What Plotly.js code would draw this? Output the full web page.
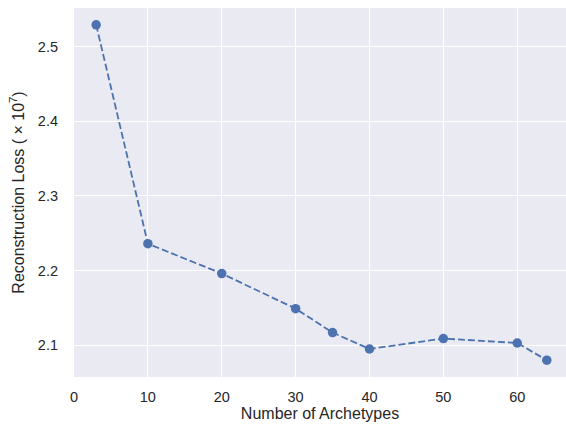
<!DOCTYPE html>
<html><head><meta charset="utf-8">
<script src="https://cdn.plot.ly/plotly-3.0.1.min.js"></script>
<style>body{margin:0;padding:0;background:#fff}#chart{width:566px;height:425px}</style>
</head><body><div id="chart"></div>
<script>
const archetypes = [3, 10, 20, 30, 35, 40, 50, 60, 64];
const loss = [2.529, 2.236, 2.196, 2.149, 2.117, 2.095, 2.109, 2.103, 2.080];
const xTicks = [0, 10, 20, 30, 40, 50, 60];
const yTicks = [2.1, 2.2, 2.3, 2.4, 2.5];

const trace = {
  x: archetypes, y: loss, type: 'scatter', mode: 'lines+markers',
  line: {color: '#4C72B0', width: 1.8, dash: '7px,3px'},
  marker: {color: '#4C72B0', size: 9.5},
  cliponaxis: false
};
const font = {family: 'Liberation Sans, Arial, sans-serif', color: '#262626', size: 14};
const layout = {
  width: 566, height: 425,
  margin: {l: 74, r: 0, t: 8, b: 48},
  paper_bgcolor: '#ffffff', plot_bgcolor: '#EAEAF2',
  font: font, showlegend: false,
  xaxis: {range: [0, 66.6], tickvals: xTicks, ticktext: xTicks.map(String),
    showgrid: true, gridcolor: '#ffffff', gridwidth: 1.2, zeroline: false, showline: false,
    ticks: '', ticklen: 0, tickfont: {size: 14.5}, ticklabelstandoff: 9,
    title: {text: 'Number of Archetypes', font: {size: 16}, standoff: 4}},
  yaxis: {range: [2.0575, 2.5515], tickvals: yTicks, ticktext: yTicks.map(v => v.toFixed(1)),
    showgrid: true, gridcolor: '#ffffff', gridwidth: 1.2, zeroline: false, showline: false,
    ticks: '', ticklen: 0, tickfont: {size: 14.5}, ticklabelstandoff: 15,
    title: {text: 'Reconstruction Loss ( × 10<sup>7</sup>)', font: {size: 16}, standoff: 9}}
};
Plotly.newPlot('chart', [trace], layout, {staticPlot: true, displayModeBar: false});
</script></body></html>
